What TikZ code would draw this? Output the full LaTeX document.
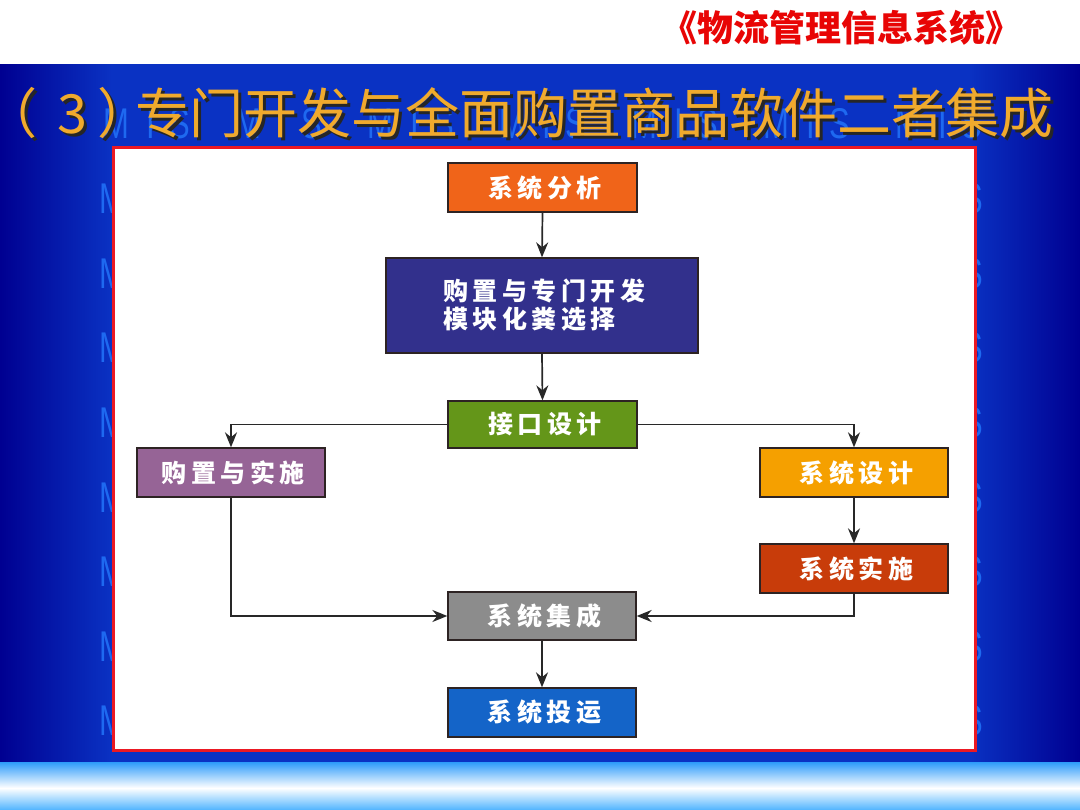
\documentclass[tikz,border=0pt]{standalone}
\usepackage{fontspec}
\usetikzlibrary{arrows.meta}
\newfontfamily\cjk{Noto Sans CJK SC}
\newfontfamily\cjkbox{Noto Sans CJK SC}[LetterSpace=18]
\newfontfamily\wmfont{Liberation Sans}[FakeStretch=0.72]
\definecolor{navyedge}{RGB}{0,0,145}
\definecolor{navymid}{RGB}{10,50,195}
\definecolor{wmblue}{RGB}{30,105,240}
\definecolor{bandtop}{RGB}{45,155,250}
\definecolor{bandbot}{RGB}{80,180,255}
\definecolor{headred}{RGB}{232,5,5}
\definecolor{titleyellow}{RGB}{240,170,45}
\definecolor{panelred}{RGB}{235,25,35}
\definecolor{boxborder}{RGB}{45,35,35}
\definecolor{linegray}{RGB}{40,40,40}
\definecolor{cOrange}{RGB}{240,100,25}
\definecolor{cIndigo}{RGB}{50,48,140}
\definecolor{cGreen}{RGB}{100,150,25}
\definecolor{cPurple}{RGB}{150,100,150}
\definecolor{cAmber}{RGB}{245,160,0}
\definecolor{cRust}{RGB}{200,60,10}
\definecolor{cGray}{RGB}{140,140,140}
\definecolor{cBlue}{RGB}{20,100,200}
\tikzset{
  wm/.style={inner sep=0pt, text=wmblue, font=\wmfont\fontsize{43}{43}\selectfont, anchor=base west},
  flowbox/.style={draw=boxborder, line width=1.3pt, inner sep=0pt, text=white,
    minimum width=188pt, minimum height=48pt,
    font=\cjkbox\bfseries\fontsize{25}{28}\selectfont},
  conn/.style={draw=linegray, line width=1.7pt, -{Stealth[length=15pt,width=12pt]}},
  titletext/.style={font=\cjk\fontsize{54}{60}\selectfont, inner sep=0pt, anchor=west}
}
\begin{document}
\begin{tikzpicture}[x=1pt,y=-1pt]
\useasboundingbox (0,0) rectangle (1080,810);
% page background
\shade[left color=navyedge, right color=navymid] (0,60) rectangle (112,762);
\shade[left color=navymid, right color=navyedge] (968,60) rectangle (1080,762);
\fill[navymid] (111,60) rectangle (969,762);
\fill[white] (0,0) rectangle (1080,64.5);
% watermark letters (top row in full, then the edges that show beside the panel)
\foreach \c in {0,...,6} {
  \node[wm] (wmM0\c) at ({103+132*\c},139) {M};
  \node[wm] (wmI0\c) at ({146+132*\c},139) {I};
  \node[wm] (wmS0\c) at ({169+132*\c},139) {S};
}
\foreach \r in {1,...,8} {
  \node[wm] (wmM\r) at (99,{139+74.6*\r}) {M};
  \node[wm] (wmS\r) at (962,{139+74.6*\r}) {S};
}
% bottom band
\shade[top color=bandtop, bottom color=white] (0,762) rectangle (1080,788);
\shade[top color=white, bottom color=bandbot] (0,788) rectangle (1080,810);
% header
\node[font=\cjk\bfseries\fontsize{36}{40}\selectfont, text=headred, inner sep=0pt] (hd) at (841,28) {《物流管理信息系统》};
% title with shadow
\node[titletext, text=black!85] (tts) at (3,116) {\kern-17pt（\kern20pt 3\kern10pt ）\kern-16pt 专门开发与全面购置商品软件二者集成};
\node[titletext, text=titleyellow] (tt) at (0,113) {\kern-17pt（\kern20pt 3\kern10pt ）\kern-16pt 专门开发与全面购置商品软件二者集成};
% panel
\draw[panelred, line width=3pt, fill=white] (113,148) rectangle (975,750);
% flow boxes
\node[flowbox, fill=cOrange, minimum width=189pt, minimum height=49pt] (sa) at (542.5,187.5) {\kern4.5pt 系统分析};
\node[flowbox, fill=cIndigo, minimum width=312pt, minimum height=95pt, align=left] (pm) at (542,305.5) {\kern4.5pt 购置与专门开发\\\kern4.5pt 模块化粪选择};
\node[flowbox, fill=cGreen, minimum width=189pt, minimum height=47pt] (jk) at (542.5,424.5) {\kern4.5pt 接口设计};
\node[flowbox, fill=cPurple, minimum height=49pt] (gs) at (231,472.5) {\kern4.5pt 购置与实施};
\node[flowbox, fill=cAmber, minimum height=49pt] (xd) at (854,472.5) {\kern4.5pt 系统设计};
\node[flowbox, fill=cRust, minimum height=49pt] (xs) at (854,568.5) {\kern4.5pt 系统实施};
\node[flowbox, fill=cGray, minimum height=48pt] (jc) at (542,616) {\kern4.5pt 系统集成};
\node[flowbox, fill=cBlue, minimum height=49pt] (ty) at (542,712.5) {\kern4.5pt 系统投运};
% connectors
\draw[conn] (sa.south) -- (pm.north);
\draw[conn] (pm.south) -- (jk.north);
\draw[conn] (jk.west) -| (gs.north);
\draw[conn] (jk.east) -| (xd.north);
\draw[conn] (xd.south) -- (xs.north);
\draw[conn] (gs.south) |- (jc.west);
\draw[conn] (xs.south) |- (jc.east);
\draw[conn] (jc.south) -- (ty.north);
\end{tikzpicture}
\end{document}
